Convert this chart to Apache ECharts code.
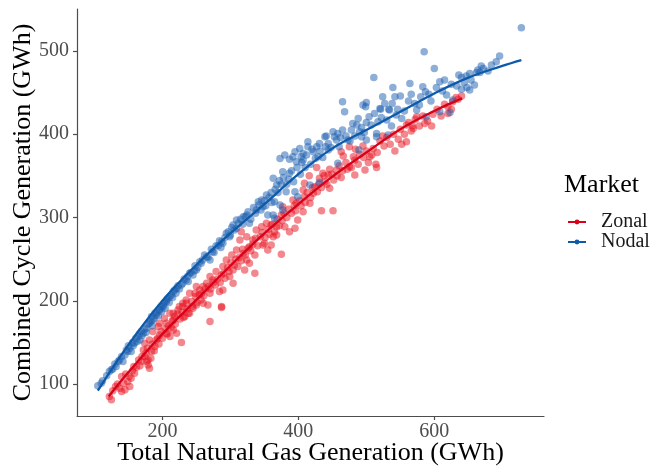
<!DOCTYPE html>
<html>
<head>
<meta charset="utf-8">
<script src="https://cdn.jsdelivr.net/npm/echarts@6/dist/echarts.min.js"></script>
<style>html,body{margin:0;padding:0;background:#fff}#c{width:652px;height:468px}</style>
</head>
<body>
<div id="c"></div>
<script>
var xTicks = [200, 400, 600];
var yTicks = [100, 200, 300, 400, 500];
var seriesNames = ['Zonal', 'Nodal'];

var zonalPoints = [
[122,85],[125,81],[140,109],[137,95],[145,93],[152,97],[140,91],[154,107],[159,113],[149,103],[169,127],[174,133],[177,127],[172,141],[179,123],[181,119],[184,139],[189,145],[191,153],[174,149],[196,159],[206,161],[211,157],[216,165],[221,161],[228,150],[196,173],[203,179],[211,185],[218,181],[223,189],[230,193],[235,197],[240,185],[233,181],[245,191],[250,195],[260,197],[267,195],[270,175],[287,192],[186,163],[181,153],[179,129],[194,169],[206,173],[216,177],
[353,293],[346,289],[338,285],[350,269],[333,273],[328,265],[336,255],[324,249],[319,257],[314,273],[309,261],[302,255],[304,237],[294,249],[289,241],[287,231],[304,221],[279,235],[274,225],[270,229],[265,221],[260,217],[255,213],[250,217],[248,209],[240,209],[235,201],[230,197],[225,193],[284,211],[287,193],[289,213],[270,209],[257,201],[216,185],[328,245],[336,233],[348,267],[355,261],[316,283],[324,277],[311,241],[299,229],[321,237],
[514,364],[515,360],[498,357],[483,351],[463,348],[475,361],[456,357],[446,358],[444,351],[436,353],[427,360],[431,347],[424,337],[446,335],[422,329],[439,343],[409,341],[416,350],[407,333],[409,325],[434,308],[451,308],[417,317],[397,317],[392,321],[399,297],[395,287],[380,289],[387,283],[377,313],[375,303],[368,279],[363,277],[360,267],[375,256],[368,289],[360,291],[407,307],
[635,442],[627,439],[620,425],[596,410],[586,413],[574,421],[568,410],[559,411],[569,407],[542,380],[552,388],[559,391],[524,398],[508,375],[495,386],[484,382],[483,369],[466,374],[463,379],[620,433],[475,385],[505,373],
[127,92],[131,97],[134,100],[143,101],[146,112],[151,109],[156,116],[158,121],[162,120],[165,129],[167,122],[170,133],[176,137],[178,143],[183,131],[185,148],[188,140],[193,155],[195,148],[198,163],[200,155],[204,166],[207,160],[209,170],[213,168],[215,176],[219,172],[222,184],[226,178],[229,186],[231,180],[236,190],[238,185],[243,199],[244,193],[249,205],[251,198],[254,207],[258,209],[261,206],[263,214],[268,217],[271,214],[275,222],[278,219],[281,226],[285,222],[290,233],[292,227],[296,240],[298,235],[301,246],[306,243],[308,250],[313,252],[316,248],[318,262],[322,255],[326,263],[330,260],[333,268],[337,275],[340,266],[344,277],[347,282],[351,276],[356,286],[358,280],[362,292],[365,283],[369,298],[372,290],[376,296],[379,305],[383,300],[386,310],[390,305],[394,314],[396,308],[402,320],[404,314],[410,318],[413,330],[418,324],[421,336],[428,331],[430,340],[434,336],[438,350],[442,340],[449,352],[452,345],[457,350],[460,362],[465,356],[470,366],[472,358],[478,360],[481,373],[488,364],[490,376],[496,372],[500,380],[503,366],[510,383],[516,378],[520,392],[526,386],[530,396],[535,388],[540,400],[547,394],[550,406],[556,400],[562,414],[566,404],[572,418],[578,410],[583,422],[590,416],[598,424],[604,430],[610,422],[615,436],[625,430],[632,444],[640,446]
];

var nodalPoints = [
[105,98],[110,101],[122,115],[125,117],[132,121],[137,129],[140,133],[145,135],[142,127],[152,143],[154,139],[159,149],[164,157],[167,153],[172,161],[177,167],[181,173],[186,177],[191,183],[196,189],[201,193],[206,199],[149,139],[157,146],[169,163],
[346,321],[353,327],[341,319],[324,303],[328,293],[319,301],[309,297],[304,291],[294,281],[287,271],[289,269],[282,266],[274,259],[265,253],[270,249],[257,245],[250,237],[245,231],[240,233],[235,225],[228,219],[221,215],[216,211],[211,205],[206,201],[201,195],[196,190],[189,185],[184,181],[299,277],[309,287],[338,309],[348,313],[355,303],
[363,347],[377,355],[387,353],[397,367],[407,369],[368,339],[375,340],[382,331],[395,331],[399,325],[365,319],[373,315],[377,309],[363,303],[365,299],[458,365],[417,339],[431,342],
[373,371],[380,375],[387,370],[395,379],[402,383],[407,377],[414,391],[422,379],[427,385],[431,389],[439,397],[444,389],[451,403],[456,393],[458,401],[465,405],[444,381],[429,373],[473,393],[489,381],[480,413],[465,439],[468,427],[585,499],[600,479],[511,468],[564,461],[539,456],[500,438],[499,433],[524,445],[542,445],[521,430],[533,430],[587,451],[608,463],[615,465],[640,468],[647,470],[640,454],[627,441],[608,427],[588,421],[578,435],[574,429],[544,423],[552,419],[537,410],[532,399],[515,401],[500,414],[486,411],[490,403],[493,397],[500,393],[515,397],[441,398],[414,385],[392,373],[404,373],[495,435],[520,431],[534,429],[623,426],
[728,528],[696,494],[691,487],[669,482],[664,477],[667,474],[679,476],[652,473],[654,465],[659,459],[652,453],[662,474],[672,479],[684,483],
[112,104],[118,110],[127,118],[130,124],[135,127],[147,141],[150,146],[156,150],[161,155],[163,151],[166,160],[170,158],[174,166],[176,162],[179,172],[183,175],[185,170],[188,179],[192,186],[194,182],[198,193],[199,187],[203,198],[204,191],[208,203],[210,198],[213,207],[215,204],[218,213],[220,209],[223,218],[225,214],[230,221],[232,226],[237,229],[238,223],[242,234],[247,236],[248,242],[252,240],[255,247],[259,249],[262,255],[267,252],[272,262],[276,258],[279,266],[284,272],[286,264],[292,276],[297,283],[300,279],[302,288],[306,285],[312,293],[315,298],[318,292],[322,301],[326,307],[330,298],[334,312],[337,305],[342,315],[345,309],[350,320],[352,314],[357,324],[360,330],[361,318],[366,334],[370,330],[372,344],[378,348],[383,340],[386,346],[390,356],[393,343],[398,360],[403,352],[405,366],[410,360],[412,375],[418,364],[420,382],[425,371],[432,380],[436,372],[440,385],[448,384],[453,397],[460,385],[462,396],[470,398],[476,392],[478,405],[483,398],[488,419],[493,408],[497,402],[504,421],[507,411],[512,425],[517,415],[522,420],[527,437],[530,417],[538,437],[546,430],[550,446],[556,428],[562,440],[566,448],[571,437],[580,445],[583,457],[592,448],[595,440],[603,456],[612,452],[618,447],[625,460],[633,458],[636,471],[644,462],[648,456]
];

var zonalFitX = [121,150,200,250,300,350,400,450,500,550,600,641];
var zonalFitY = [85,114,160,201,242,281,316,349,378,406,428,443];
var nodalFitX = [105,150,200,250,300,350,400,450,500,550,600,650,700,728];
var nodalFitY = [92,147,200,243,281,316,352,383,405,427,449,468,482,489];

function pairs(xs, ys) { return xs.map(function (x, i) { return [x, ys[i]]; }); }

var red = '#E8101E', redLine = '#D9001A';
var blue = '#1A5DB0', blueLine = '#0D5AAA';
var serif = 'Liberation Serif';

var chart = echarts.init(document.getElementById('c'));
chart.setOption({
  animation: false,
  backgroundColor: '#fff',
  title: {
    text: 'Market', left: 559, top: 167,
    textStyle: { fontFamily: serif, fontSize: 26, fontWeight: 'normal', color: '#000' }
  },
  legend: {
    data: seriesNames, orient: 'vertical', left: 562, top: 207,
    itemWidth: 18, itemHeight: 6, itemGap: 0,
    textStyle: { fontFamily: serif, fontSize: 20, color: '#1a1a1a', lineHeight: 19.5, padding: [0, 0, 0, 10] }
  },
  grid: { left: 77, right: 108, top: 9, bottom: 52, containLabel: false, outerBoundsMode: 'none' },
  xAxis: {
    type: 'value', min: 74.4, max: 761.3,
    name: 'Total Natural Gas Generation (GWh)', nameLocation: 'middle', nameGap: 24, nameMoveOverlap: false,
    nameTextStyle: { fontFamily: serif, fontSize: 26, color: '#000' },
    splitLine: { show: false },
    axisLine: { show: true, onZero: false, lineStyle: { color: '#4d4d4d', width: 1.2 } },
    axisTick: { show: true, length: 4, lineStyle: { color: '#4d4d4d', width: 1.2 }, customValues: xTicks },
    axisLabel: { fontFamily: serif, fontSize: 20, color: '#4d4d4d', margin: 6, customValues: xTicks }
  },
  yAxis: {
    type: 'value', min: 61.6, max: 550.4,
    name: 'Combined Cycle Generation (GWh)', nameLocation: 'middle', nameGap: 41, nameMoveOverlap: false,
    nameTextStyle: { fontFamily: serif, fontSize: 26, color: '#000' },
    splitLine: { show: false },
    axisLine: { show: true, onZero: false, lineStyle: { color: '#4d4d4d', width: 1.2 } },
    axisTick: { show: true, length: 4, lineStyle: { color: '#4d4d4d', width: 1.2 }, customValues: yTicks },
    axisLabel: { fontFamily: serif, fontSize: 20, color: '#4d4d4d', margin: 8, customValues: yTicks }
  },
  series: [
    { name: 'Zonal', type: 'line', data: pairs(zonalFitX, zonalFitY), smooth: 0.4, symbol: 'none', z: 5,
      color: redLine, lineStyle: { color: redLine, width: 2.3 } },
    { name: 'Nodal', type: 'line', data: pairs(nodalFitX, nodalFitY), smooth: 0.4, symbol: 'none', z: 5,
      color: blueLine, lineStyle: { color: blueLine, width: 2.3 } },
    { name: 'Zonal', type: 'scatter', data: zonalPoints, symbolSize: 7.5, z: 2,
      itemStyle: { color: red, opacity: 0.5 } },
    { name: 'Nodal', type: 'scatter', data: nodalPoints, symbolSize: 7.5, z: 3,
      itemStyle: { color: blue, opacity: 0.5 } }
  ]
});
</script>
</body>
</html>
